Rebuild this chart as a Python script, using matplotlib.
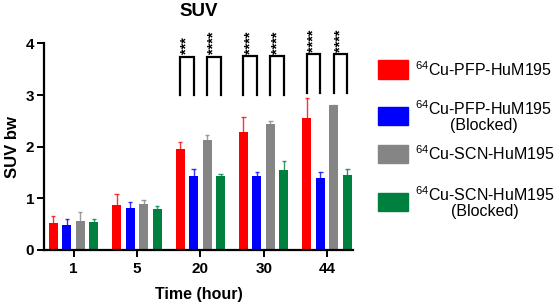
""" SUV bar chart """
import numpy as np
from matplotlib import pyplot as plt
from matplotlib.patches import Rectangle

plt.rcParams["font.family"] = ["Liberation Sans", "DejaVu Sans"]
plt.rcParams["mathtext.fontset"] = "custom"
plt.rcParams["mathtext.rm"] = "Liberation Sans"

times = ["1", "5", "20", "30", "44"]
labels = [r"$^{64}$Cu-PFP-HuM195",
          "$^{64}$Cu-PFP-HuM195\n(Blocked)",
          r"$^{64}$Cu-SCN-HuM195",
          "$^{64}$Cu-SCN-HuM195\n(Blocked)"]
colors = ["#ff0000", "#0000ff", "#858585", "#00803f"]

pfp = [0.52, 0.87, 1.95, 2.28, 2.56]
pfp_err = [0.13, 0.22, 0.15, 0.29, 0.38]
pfp_blk = [0.48, 0.81, 1.44, 1.44, 1.39]
pfp_blk_err = [0.12, 0.12, 0.13, 0.07, 0.12]
scn = [0.57, 0.89, 2.12, 2.44, 2.80]
scn_err = [0.17, 0.07, 0.10, 0.06, 0.01]
scn_blk = [0.54, 0.79, 1.43, 1.54, 1.46]
scn_blk_err = [0.06, 0.07, 0.05, 0.19, 0.11]

means = [pfp, pfp_blk, scn, scn_blk]
errs = [pfp_err, pfp_blk_err, scn_err, scn_blk_err]

# significance: (group index, first bar, second bar, stars)
sig = [(2, 0, 1, "***"), (2, 2, 3, "****"),
       (3, 0, 1, "****"), (3, 2, 3, "****"),
       (4, 0, 1, "****"), (4, 2, 3, "****")]
sig_top = {2: 3.74, 3: 3.75, 4: 3.79}
sig_bot = {2: 3.0, 3: 3.0, 4: 3.04}

fig = plt.figure(figsize=(5.56, 3.07), dpi=100)
ax = fig.add_axes([0.0791, 0.1857, 0.556, 0.673])

x = np.arange(len(times))
slot = 0.213
width = 0.142
offsets = (np.arange(4) - 1.5) * slot

for i in range(4):
    xs = x + offsets[i]
    ax.bar(xs, means[i], width, color=colors[i], zorder=2)
    top = np.array(means[i]) + np.array(errs[i])
    ax.vlines(xs, means[i], top, color=colors[i], lw=1, alpha=0.8, zorder=1)
    ax.hlines(top, xs - 0.035, xs + 0.035, color=colors[i], lw=1,
              alpha=0.8, zorder=1)

for g, a, b, stars in sig:
    xa = x[g] + offsets[a]
    xb = x[g] + offsets[b]
    ax.plot([xa, xa, xb, xb], [sig_bot[g], sig_top[g], sig_top[g], sig_bot[g]],
            color="black", lw=1.6, clip_on=False, solid_joinstyle="miter")
    ax.text((xa + xb) / 2, sig_top[g] + 0.05, stars, rotation=90,
            ha="center", va="bottom", fontsize=10.5, fontweight="bold",
            clip_on=False)

ax.set_xlim(-0.466, 4.41)
ax.set_ylim(0, 4)
ax.set_xticks(x)
ax.set_xticklabels(times)
ax.set_yticks([0, 1, 2, 3, 4])
for s in ["top", "right"]:
    ax.spines[s].set_visible(False)
for s in ["left", "bottom"]:
    ax.spines[s].set_linewidth(1.6)
ax.tick_params(width=1.4, length=5, labelsize=11)
ax.tick_params(axis="x", pad=3.5)
ax.tick_params(axis="y", pad=2)
for lab in ax.get_xticklabels() + ax.get_yticklabels():
    lab.set_fontweight("bold")

ax.set_title("SUV", fontsize=13.5, fontweight="bold", pad=19.5)
ax.set_xlabel("Time (hour)", fontsize=11.5, fontweight="bold", labelpad=8)
ax.set_ylabel("SUV bw", fontsize=12, fontweight="bold", labelpad=4)

# legend drawn by hand to keep the uneven spacing
W, H = 556.0, 307.0
centers = [69.5, 116, 154, 202]
for c, lab, yc in zip(colors, labels, centers):
    fig.add_artist(Rectangle((378 / W, 1 - (yc + 9) / H), 30 / W, 18 / H,
                             color=c, transform=fig.transFigure))
    fig.text(415 / W, 1 - yc / H, lab, ha="left", va="center",
             multialignment="center", fontsize=11.5, linespacing=1.05)

plt.savefig("out.png", dpi=100)
